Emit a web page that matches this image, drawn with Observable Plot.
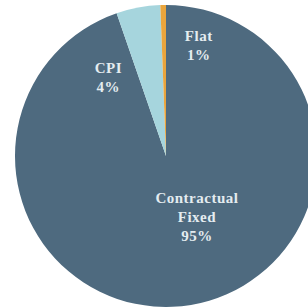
<!DOCTYPE html>
<html><head><meta charset="utf-8">
<script src="https://cdn.jsdelivr.net/npm/d3@7"></script>
<script src="https://cdn.jsdelivr.net/npm/@observablehq/plot@0.6"></script>
<style>
body{margin:0;background:#fff;overflow:hidden}
#chart svg text{letter-spacing:0.5px}
</style>
</head><body><div id="chart"></div>
<script>
const categories = ["Contractual Fixed", "CPI", "Flat"];
const shares = [94.7, 4.7, 0.6];
const labelText = ["Contractual\nFixed\n95%", "CPI\n4%", "Flat\n1%"];
const colors = ["#4e6a7f", "#a6d5dd", "#eaa53c"];

const layout = {
  radius: 151,
  labelAngle: [153, 324, 16],   // degrees clockwise from top
  labelDist: [67, 99, 117]
};

const data = categories.map((c, i) => ({
  category: c, share: shares[i], label: labelText[i],
  lx: layout.labelDist[i] * Math.sin(layout.labelAngle[i] * Math.PI / 180),
  ly: layout.labelDist[i] * Math.cos(layout.labelAngle[i] * Math.PI / 180)
}));

function pieMark(index, scales, values, dimensions, context) {
  const cx = scales.x(0), cy = scales.y(0);
  const r = Math.abs(scales.x(layout.radius) - scales.x(0));
  const color = scales.color ?? d3.scaleOrdinal(categories, colors);
  const arcs = d3.pie().sort(null).value(d => d.share)(data);
  const arc = d3.arc().innerRadius(0).outerRadius(r);
  const g = d3.create("svg:g").attr("transform", `translate(${cx},${cy})`);
  g.selectAll("path").data(arcs).join("path")
    .attr("d", arc)
    .attr("fill", d => color(d.data.category));
  return g.node();
}

const chart = Plot.plot({
  width: 308,
  height: 307,
  margin: 0,
  x: {domain: [-166, 142], range: [0, 308], axis: null},
  y: {domain: [156, -151], range: [0, 307], axis: null},
  color: {domain: categories, range: colors},
  marks: [
    pieMark,
    Plot.text(data, {
      x: "lx", y: "ly", text: "label",
      fill: "#e4ecf0",
      fontFamily: "Liberation Serif",
      fontWeight: "bold",
      fontSize: 15,
      lineHeight: 1.27,
      textAnchor: "middle"
    })
  ]
});
document.getElementById("chart").appendChild(chart);
</script>
</body></html>
